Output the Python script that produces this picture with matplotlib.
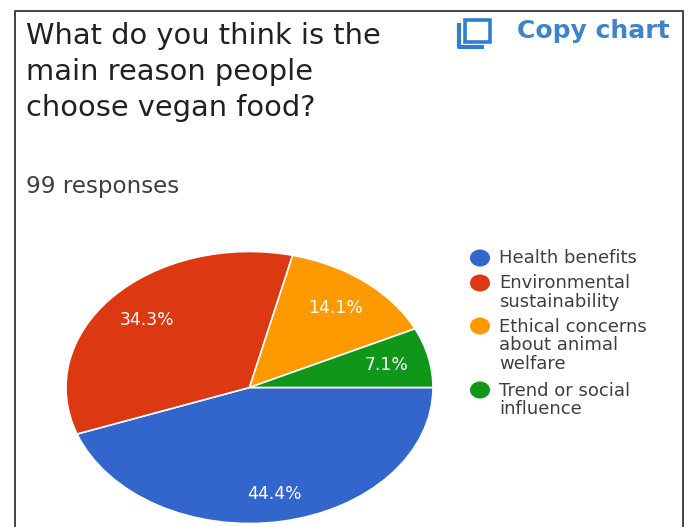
import matplotlib
matplotlib.use("Agg")
import matplotlib.pyplot as plt
from matplotlib.patches import Rectangle, Ellipse

title_lines = ["What do you think is the", "main reason people", "choose vegan food?"]
responses = "99 responses"
categories = ["Health benefits", "Environmental\nsustainability",
              "Ethical concerns\nabout animal\nwelfare", "Trend or social\ninfluence"]
values = [44.4, 34.3, 14.1, 7.1]
colors = ["#3366cc", "#dc3912", "#ff9900", "#109618"]

plt.rcParams["font.family"] = "DejaVu Sans"

W, H = 689, 527
fig = plt.figure(figsize=(W / 100, H / 100), dpi=100)
bg = fig.add_axes([0, 0, 1, 1], zorder=3)
bg.set_xlim(0, W)
bg.set_ylim(H, 0)
bg.axis("off")

# card border, open at the bottom
bg.plot([14.5, 14.5, 683, 683], [527, 10.5, 10.5, 527], color="#444444", lw=1.4)

for i, line in enumerate(title_lines):
    bg.text(26, 35.5 + i * 36.5, line, fontsize=20.8, color="#202124", va="center")
bg.text(26, 186.5, responses, fontsize=16.6, color="#3c4043", va="center")

# copy icon
bg.add_patch(Rectangle((465, 20), 25, 22, fc="none", ec="#2f7fd0", lw=2.6))
bg.plot([459, 459, 482], [25, 47, 47], color="#2f7fd0", lw=3)
bg.text(517, 31, "Copy chart", fontsize=18, color="#3f83c8", va="center", weight="bold")

# pie, clockwise from 3 o'clock
ax = fig.add_axes([66 / W, 1 - 523.5 / H, 367 / W, 272 / H])
ax.pie(values, colors=colors, startangle=0, counterclock=False, radius=1,
       wedgeprops={"edgecolor": "white", "linewidth": 1.2})
ax.set_aspect("auto")
ax.set_xlim(-1, 1)
ax.set_ylim(-1, 1)

# percentage labels
label_pos = [(274, 494), (147, 320), (336, 308), (386, 365)]
for (x, y), v in zip(label_pos, values):
    bg.text(x, y, f"{v}%", fontsize=12.3, color="white", ha="center", va="center", zorder=5)

# legend
dots_y = [258, 283, 326, 390]
text_y = [258, 292.5, 345.5, 400]
for c, dy, ty, label in zip(colors, dots_y, text_y, categories):
    bg.add_patch(Ellipse((480, dy), 20, 17, fc=c, ec="none"))
    bg.text(499, ty, label, fontsize=13, color="#3c4043", va="center", linespacing=1.06)

fig.savefig("out.png", dpi=100)
